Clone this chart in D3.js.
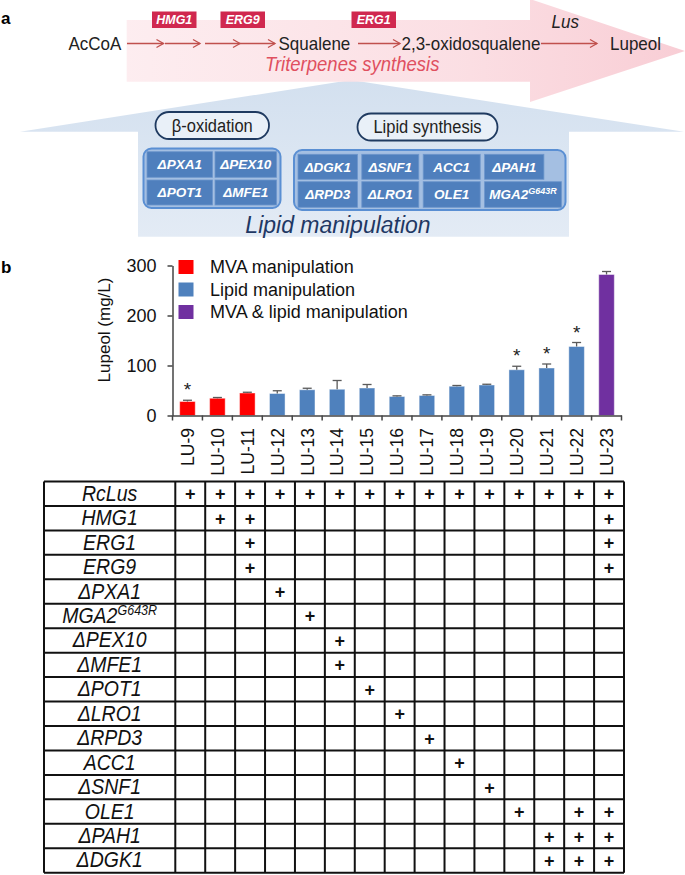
<!DOCTYPE html>
<html>
<head>
<meta charset="UTF-8">
<script src="https://cdn.jsdelivr.net/npm/d3@7"></script>
<style>
  body { margin: 0; background: #fff; }
  svg { display: block; font-family: "Liberation Sans", Arial, sans-serif; }
</style>
</head>
<body>
<svg id="fig" width="685" height="875"></svg>
<script>
// ---- data ----
const strains = ["LU-9","LU-10","LU-11","LU-12","LU-13","LU-14","LU-15","LU-16","LU-17","LU-18","LU-19","LU-20","LU-21","LU-22","LU-23"];
const lupeol    = [28, 34.5, 45, 44, 51.5, 52.5, 55, 38, 40, 58.5, 61, 91.5, 95, 138, 282];
const lupeolErr = [2.5, 1.5, 1.5, 5.5, 3, 17.5, 7, 1.3, 1.3, 1.5, 1.5, 7, 8, 8, 6];
const strainGroup = ["MVA","MVA","MVA","Lipid","Lipid","Lipid","Lipid","Lipid","Lipid","Lipid","Lipid","Lipid","Lipid","Lipid","Both"];
const starred = ["LU-9","LU-20","LU-21","LU-22"];
const groupKeys = ["MVA","Lipid","Both"];
const groupLabels = ["MVA manipulation","Lipid manipulation","MVA & lipid manipulation"];
const groupColors = ["#ff0000","#4f81bd","#7030a0"];
const yTicks = [0, 100, 200, 300];

const genes = ["RcLus","HMG1","ERG1","ERG9","ΔPXA1","MGA2","ΔPEX10","ΔMFE1","ΔPOT1","ΔLRO1","ΔRPD3","ACC1","ΔSNF1","OLE1","ΔPAH1","ΔDGK1"];
const geneSup = { "MGA2": "G643R" };
const genotype = {
  "RcLus": strains,
  "HMG1": ["LU-10","LU-11","LU-23"],
  "ERG1": ["LU-11","LU-23"],
  "ERG9": ["LU-11","LU-23"],
  "ΔPXA1": ["LU-12"],
  "MGA2": ["LU-13"],
  "ΔPEX10": ["LU-14"],
  "ΔMFE1": ["LU-14"],
  "ΔPOT1": ["LU-15"],
  "ΔLRO1": ["LU-16"],
  "ΔRPD3": ["LU-17"],
  "ACC1": ["LU-18"],
  "ΔSNF1": ["LU-19"],
  "OLE1": ["LU-20","LU-22","LU-23"],
  "ΔPAH1": ["LU-21","LU-22","LU-23"],
  "ΔDGK1": ["LU-21","LU-22","LU-23"]
};

// pathway (panel a)
const metabolites = ["AcCoA","Squalene","2,3-oxidosqualene","Lupeol"];
const metaboliteX = [68.5, 278.5, 401.5, 610];
const enzymes = ["HMG1","ERG9","ERG1"];
const enzymeX = [152, 220.5, 351.5];
const betaOx = [["ΔPXA1","ΔPEX10"],["ΔPOT1","ΔMFE1"]];
const lipidSyn = [["ΔDGK1","ΔSNF1","ACC1","ΔPAH1"],["ΔRPD3","ΔLRO1","OLE1","MGA2"]];

const svg = d3.select("#fig");

// ---- panel a ----
const defs = svg.append("defs");
const pg = defs.append("linearGradient").attr("id","pinkGrad")
  .attr("x1",0).attr("x2",1).attr("y1",0).attr("y2",0);
pg.append("stop").attr("offset",0).attr("stop-color","#fdecef");
pg.append("stop").attr("offset",0.6).attr("stop-color","#fbdde2");
pg.append("stop").attr("offset",1).attr("stop-color","#f8cbd3");
const bgr = defs.append("linearGradient").attr("id","blueGrad")
  .attr("x1",0).attr("x2",0).attr("y1",0).attr("y2",1);
bgr.append("stop").attr("offset",0).attr("stop-color","#d3e0ef");
bgr.append("stop").attr("offset",1).attr("stop-color","#e3ebf5");

svg.append("text").attr("x", 1).attr("y", 24)
  .style("font-weight","bold").style("font-size","17px").text("a");

// blue upward arrow
svg.append("path")
  .attr("d", "M20,131.7 L351,80 L684,131.7 L569,131.7 L569,236.7 L138,236.7 L138,131.7 Z")
  .attr("fill","url(#blueGrad)");

// pink right arrow
svg.append("path")
  .attr("d", "M126.7,20 L530,20 L530,-1 L685,51 L530,102 L530,81.7 L126.7,81.7 Z")
  .attr("fill","url(#pinkGrad)").attr("opacity",0.95);

function arrow(x1, x2, y) {
  const g = svg.append("g").attr("stroke","#c0504d").attr("stroke-width",1.3).attr("fill","none");
  g.append("line").attr("x1",x1).attr("x2",x2).attr("y1",y).attr("y2",y);
  g.append("path").attr("d",`M${x2-7},${y-4} L${x2},${y} L${x2-7},${y+4}`);
}
arrow(127, 163.5, 43.5);
arrow(165, 200, 43.5);
arrow(205, 240, 43.5);
arrow(240, 275, 43.5);
arrow(358, 400, 43.5);
arrow(541, 597, 43.5);

// text slightly stretched vertically, like the source figure
function tallText(xx, yy, sy) {
  return svg.append("text").attr("transform", `translate(${xx},${yy}) scale(1,${sy})`);
}

metabolites.forEach((m, i) => {
  tallText(metaboliteX[i], 49.5, 1.1)
    .style("font-size","17px").attr("fill","#222").text(m);
});

enzymes.forEach((e, i) => {
  svg.append("rect").attr("x", enzymeX[i]).attr("y", 11.5).attr("width", 44.5).attr("height", 16.5)
    .attr("fill","#d0284f");
  svg.append("text").attr("x", enzymeX[i] + 22.25).attr("y", 24.3).attr("text-anchor","middle")
    .attr("fill","#fff").style("font-weight","bold").style("font-style","italic").style("font-size","12.5px")
    .text(e);
});
tallText(551.5, 28, 1.1).style("font-style","italic").style("font-size","17px")
  .attr("fill","#222").text("Lus");

tallText(265, 70.5, 1.08).style("font-style","italic").style("font-size","18.5px")
  .attr("fill","#e0505f").text("Triterpenes synthesis");

// pills
function pill(x, y, w, h, label) {
  svg.append("rect").attr("x",x).attr("y",y).attr("width",w).attr("height",h).attr("rx",h/2)
    .attr("fill","#e9f0f8").attr("stroke","#1f3a60").attr("stroke-width",1.8);
  tallText(x + w/2, y + h/2 + 6, 1.1).attr("text-anchor","middle")
    .style("font-size","16.5px").attr("fill","#222").text(label);
}
pill(155.5, 112, 113.5, 27, "β-oxidation");
pill(357.5, 113.5, 140, 27, "Lipid synthesis");

function geneCell(x, y, w, h, label) {
  svg.append("rect").attr("x",x).attr("y",y).attr("width",w).attr("height",h)
    .attr("fill","#4f7fbd").attr("stroke","#6d96cc").attr("stroke-width",0.8);
  const t = svg.append("text").attr("x", x + w/2).attr("y", y + h/2).attr("dy","0.36em")
    .attr("text-anchor","middle").attr("fill","#fff")
    .style("font-weight","bold").style("font-style","italic").style("font-size","13.5px");
  t.append("tspan").text(label);
  if (geneSup[label]) t.append("tspan").attr("dy",-5).style("font-size","9px").text(geneSup[label]);
}

// beta-oxidation group
svg.append("rect").attr("x",143.5).attr("y",148.5).attr("width",137).attr("height",59.5).attr("rx",8)
  .attr("fill","#a4bfe2").attr("stroke","#5a8fd3").attr("stroke-width",2);
const betaColX = [147, 215], betaColW = [65.5, 61.5];
const betaRowY = [151.7, 180], betaRowH = [25.6, 25];
betaOx.forEach((row, r) => row.forEach((g, c) =>
  geneCell(betaColX[c], betaRowY[r], betaColW[c], betaRowH[r], g)));

// lipid synthesis group
svg.append("rect").attr("x",294).attr("y",150).attr("width",271.5).attr("height",60).attr("rx",8)
  .attr("fill","#a4bfe2").attr("stroke","#5a8fd3").attr("stroke-width",2);
const lipColX = [298, 361.8, 423.2, 484.6];
const lipColW = [[59.5, 57, 57, 59.3],[59.5, 57, 57, 76.8]];
const lipRowY = [154.3, 181.7], lipRowH = [25, 25.6];
lipidSyn.forEach((row, r) => row.forEach((g, c) =>
  geneCell(lipColX[c], lipRowY[r], lipColW[r][c], lipRowH[r], g)));

tallText(338, 233, 1.08).attr("text-anchor","middle")
  .style("font-style","italic").style("font-size","23px").attr("fill","#1f3864").text("Lipid manipulation");

// ---- panel b: bar chart ----
svg.append("text").attr("x", 1).attr("y", 273)
  .style("font-weight","bold").style("font-size","17px").text("b");

const x = d3.scaleBand().domain(strains).range([172.5, 621.5]).padding(0);
const y = d3.scaleLinear().domain([0, 300]).range([415.5, 265.5]);
const color = d3.scaleOrdinal().domain(groupKeys).range(groupColors);
const barW = x.bandwidth() * 0.52;

const data = strains.map((s, i) => ({ s, v: lupeol[i], e: lupeolErr[i], g: strainGroup[i] }));

const yAxis = svg.append("g").attr("transform", `translate(${x.range()[0]},0)`)
  .call(d3.axisLeft(y).tickValues(yTicks).tickSize(5).tickSizeOuter(0).tickPadding(11));
yAxis.selectAll("text").style("font-size","18px").attr("fill","#111")
  .style("font-family",'"Liberation Sans", Arial, sans-serif');
yAxis.selectAll("path, line").attr("stroke","#444").attr("stroke-width",1.5);

// bars
svg.append("g").selectAll("rect").data(data).join("rect")
  .attr("x", d => x(d.s) + (x.bandwidth() - barW) / 2)
  .attr("y", d => y(d.v))
  .attr("width", barW)
  .attr("height", d => y(0) - y(d.v))
  .attr("fill", d => color(d.g))
  .attr("stroke", "rgba(255,255,255,0.45)").attr("stroke-width", 1);

// error bars (upper)
const eb = svg.append("g").attr("stroke","#5a5a5a").attr("stroke-width",1.3);
data.forEach(d => {
  const cx = x(d.s) + x.bandwidth() / 2;
  eb.append("line").attr("x1",cx).attr("x2",cx).attr("y1",y(d.v)).attr("y2",y(d.v + d.e));
  eb.append("line").attr("x1",cx - 4.5).attr("x2",cx + 4.5).attr("y1",y(d.v + d.e)).attr("y2",y(d.v + d.e));
});

// asterisks
svg.append("g").selectAll("text").data(data.filter(d => starred.includes(d.s))).join("text")
  .attr("x", d => x(d.s) + x.bandwidth() / 2)
  .attr("y", d => y(d.v + d.e) - 4)
  .attr("text-anchor","middle").style("font-size","19px").attr("fill","#222").text("*");

// x axis
const xAxis = svg.append("g").attr("transform", `translate(0,${y(0)})`)
  .call(d3.axisBottom(x).tickSize(0).tickSizeOuter(0).tickFormat(""));
xAxis.select("path").attr("stroke","#444").attr("stroke-width",1.5);
const bounds = strains.map(s => x(s)).concat([x.range()[1]]);
svg.append("g").selectAll("line").data(bounds).join("line")
  .attr("x1", d => d).attr("x2", d => d).attr("y1", y(0)).attr("y2", y(0) + 5)
  .attr("stroke","#444").attr("stroke-width",1.5);
svg.append("g").selectAll("text").data(strains).join("text")
  .attr("transform", d => `translate(${x(d) + x.bandwidth() / 2},428) rotate(-90)`)
  .attr("text-anchor","end").attr("dy","0.36em")
  .style("font-size","17.5px").attr("fill","#111").text(d => d);

svg.append("text").attr("transform","translate(104,330) rotate(-90)")
  .attr("text-anchor","middle").attr("dy","0.35em")
  .style("font-size","17px").attr("fill","#111").text("Lupeol (mg/L)");

// legend
const leg = svg.append("g");
groupKeys.forEach((k, i) => {
  leg.append("rect").attr("x",178.5).attr("y",260 + i * 22.5).attr("width",15).attr("height",14)
    .attr("fill", color(k));
  leg.append("text").attr("x",210).attr("y",273 + i * 22.5)
    .style("font-size","18px").attr("fill","#111").text(groupLabels[i]);
});

// ---- genotype table ----
const tLeft = 44, tLabelR = 175.3, tRight = 624, tTop = 481.5, tBottom = 872.7;
const xt = d3.scaleBand().domain(strains).range([tLabelR, tRight]);
const yt = d3.scaleBand().domain(genes).range([tTop, tBottom]);

const grid = svg.append("g").attr("stroke","#111").attr("stroke-width",2);
genes.map(g => yt(g)).concat([tBottom]).forEach(yy =>
  grid.append("line").attr("x1",tLeft).attr("x2",tRight).attr("y1",yy).attr("y2",yy));
[tLeft].concat(strains.map(s => xt(s))).concat([tRight]).forEach(xx =>
  grid.append("line").attr("x1",xx).attr("x2",xx).attr("y1",tTop).attr("y2",tBottom));

genes.forEach(g => {
  const t = tallText((tLeft + tLabelR) / 2, yt(g) + yt.bandwidth() / 2 + 7, 1.12)
    .attr("text-anchor","middle")
    .style("font-style","italic").style("font-size","19.5px").attr("fill","#111");
  t.append("tspan").text(g);
  if (geneSup[g]) t.append("tspan").attr("dy",-7).style("font-size","12.5px").text(geneSup[g]);
  genotype[g].forEach(s => {
    svg.append("text").attr("x", xt(s) + xt.bandwidth() / 2).attr("y", yt(g) + yt.bandwidth() / 2)
      .attr("dy","0.36em").attr("text-anchor","middle")
      .style("font-size","18px").style("font-weight","bold").attr("fill","#111").text("+");
  });
});
</script>
</body>
</html>
